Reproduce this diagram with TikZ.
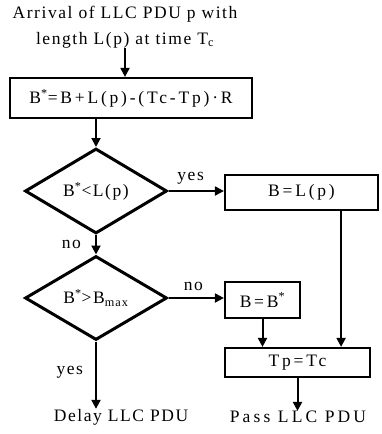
\documentclass[tikz,border=0pt]{standalone}
\usepackage{fontspec}
\setmainfont{Liberation Serif}[LetterSpace=9]
\usetikzlibrary{shapes.geometric,arrows.meta}

\tikzset{
  flow/.style={draw, line width=2.2pt, rectangle, inner sep=0pt,
    font=\fontsize{17.5}{26}\selectfont\addfontfeature{LetterSpace=16}},
  decision/.style={draw, line width=3pt, diamond, inner sep=0pt},
  arr/.style={line width=2pt, -{Triangle[length=9pt,width=9pt]}},
  lbl/.style={inner sep=0pt},
}

\begin{document}
\begin{tikzpicture}[x=1pt, y=-1pt, font=\fontsize{17.5}{26}\selectfont]
\useasboundingbox (0,0) rectangle (381,434);

% heading
\node[lbl, align=center] (title) at (125,27)
  {Arrival of LLC PDU p with\\length L(p) at time T\textsubscript{c}};

% boxes and decisions
\node[flow, minimum width=242pt, minimum height=40pt] (calc) at (131,98)
  {B\textsuperscript{*}=B+L(p)-(Tc-Tp)·R};
\node[decision, minimum width=142pt, minimum height=85pt] (less) at (96,191)
  {B\textsuperscript{*}<L(p)};
\node[flow, minimum width=153pt, minimum height=35pt] (setL) at (301.5,192.5)
  {B=L(p)};
\node[decision, minimum width=142pt, minimum height=84pt] (more) at (96,298)
  {B\textsuperscript{*}>B\textsubscript{max}};
\node[flow, minimum width=75pt, minimum height=36pt] (setB) at (262.5,300)
  {B=B\textsuperscript{*}};
\node[flow, minimum width=145pt, minimum height=29pt] (tp) at (297.5,362.5)
  {Tp=Tc};

% outcomes
\node[lbl] (delay) at (121,417) {Delay LLC PDU};
\node[lbl, font=\fontsize{17.5}{26}\selectfont\addfontfeature{LetterSpace=18}]
  (pass) at (298,417) {Pass LLC PDU};

% connectors
\draw[arr] (title.south) -- (title.south |- calc.north);
\draw[arr] (calc.south -| less.north) -- (less.north);
\draw[arr] (less.east) -- (less.east -| setL.west)
  node[lbl, pos=0.4, above=6pt] {yes};
\draw[arr] (less.south) -- (more.north)
  node[lbl, pos=0.5, left=14pt] {no};
\draw[arr] (more.east) -- (more.east -| setB.west)
  node[lbl, pos=0.45, above=6pt] {no};
\draw[arr] (more.south) -- (more.south |- delay.north)
  node[lbl, pos=0.45, left=12pt] {yes};
\draw[arr] (setB.south) -- (setB.south |- tp.north);
\draw[arr] ([xshift=-38pt]setL.south east) -- ([xshift=-38pt]setL.south east |- tp.north);
\draw[arr] (tp.south) -- (tp.south |- pass.north);
\end{tikzpicture}
\end{document}
